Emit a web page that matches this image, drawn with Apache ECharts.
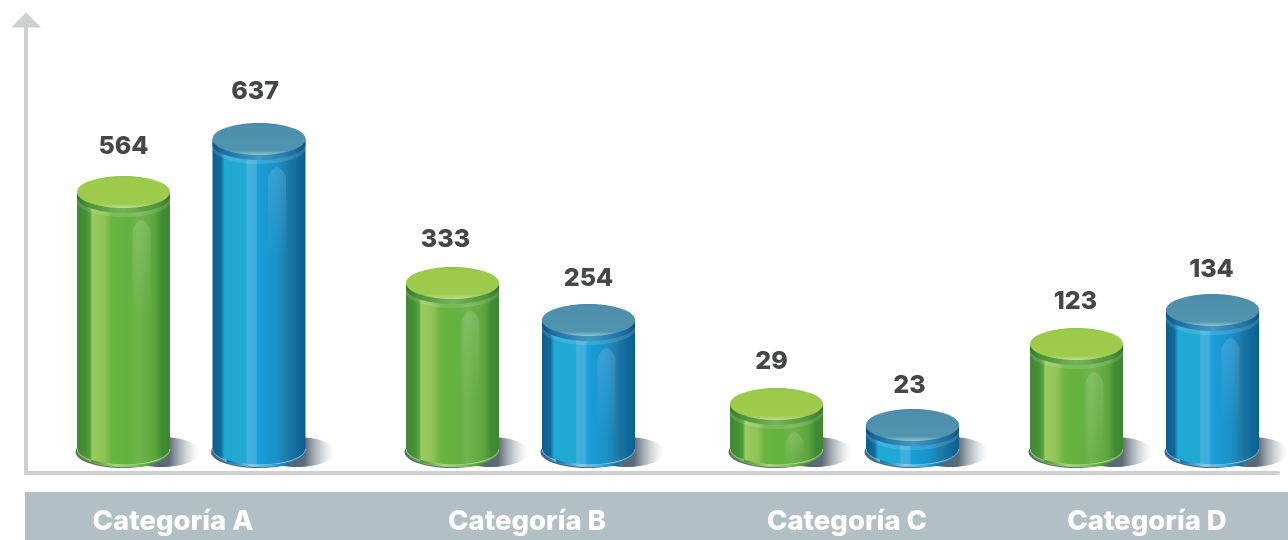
<!DOCTYPE html>
<html>
<head>
<meta charset="utf-8">
<style>html,body{margin:0;padding:0;background:#fff}#c{width:1288px;height:540px}</style>
<script src="https://cdn.jsdelivr.net/npm/echarts@6/dist/echarts.min.js"></script>
</head>
<body>
<div id="c"></div>
<script>
// Category names and printed values
var categories = ['Categoría A', 'Categoría B', 'Categoría C', 'Categoría D'];
var greenValues = [564, 333, 29, 123];
var blueValues = [637, 254, 23, 134];
// The picture's cylinders are not proportional to the printed values: drawn heights read off it
var greenHeights = [281, 190, 69, 129];
var blueHeights = [334, 153, 48, 163];
// Unevenly spaced positions along the horizontal axis
var greenPositions = [123.5, 452.5, 776.5, 1076.5];
var bluePositions = [259, 588.5, 912.5, 1212.5];
var categoryLabelPositions = [173, 527, 847, 1147];

var BASE = 21, RX = 46.5, RY = 16, FONT = 'Inter';
var LG = echarts.graphic.LinearGradient;
function h(stops) { return new LG(0, 0, 1, 0, stops.map(function (s) { return { offset: s[0], color: s[1] }; })); }
function v(stops) { return new LG(0, 0, 0, 1, stops.map(function (s) { return { offset: s[0], color: s[1] }; })); }

var palette = {
  green: {
    body: [[0,'#418a33'],[.09,'#458f35'],[.14,'#55a23c'],[.165,'#9aca62'],[.3,'#8fc354'],[.37,'#68b540'],[.56,'#63b13f'],[.66,'#72b54e'],[.84,'#5ba53c'],[.92,'#408b33'],[1,'#3e8831']],
    top: [[0,'#90c449'],[.12,'#9ccb4b'],[.86,'#9dcb4e'],[1,'#c0de90']],
    band: [[0,'#37752d'],[.12,'#4c9138'],[.5,'#76b25a'],[.88,'#4c9138'],[1,'#37752d']],
    base: '#5f6f68', foot: [[0,'#3f8c35'],[.2,'#6fb54a'],[.4,'#a8d484'],[.7,'#7fbf55'],[1,'#3f8a33']]
  },
  blue: {
    body: [[0,'#0e5f8e'],[.09,'#12699c'],[.13,'#1ea8d2'],[.36,'#22a8d4'],[.375,'#44b2de'],[.47,'#3cacdc'],[.485,'#1a9fd9'],[.7,'#1a90c8'],[.8,'#1f7ba8'],[.92,'#10699a'],[1,'#0e5f8c']],
    top: [[0,'#4a8aa8'],[.12,'#4e8fac'],[.86,'#5094ae'],[1,'#95c4c8']],
    band: [[0,'#124f80'],[.12,'#1b6ea5'],[.5,'#4497bf'],[.88,'#1b6ea5'],[1,'#124f80']],
    base: '#55666f', foot: [[0,'#11659a'],[.2,'#2a9cd0'],[.4,'#86cce6'],[.7,'#3aa8d8'],[1,'#0f6294']]
  }
};

function cylinder(kind, labelNudge) {
  return function (params, api) {
    var p = palette[kind];
    var top = api.coord([api.value(0), api.value(1)]);
    var bot = api.coord([api.value(0), BASE]);
    var cx = top[0], ty = top[1], by = bot[1];
    var L = cx - RX, R = cx + RX;
    var rtl = 'A' + RX + ' ' + RY + ' 0 0 1 ';
    var ltr = 'A' + RX + ' ' + RY + ' 0 0 0 ';
    var kids = [];
    // ground shadow
    kids.push({ type: 'ellipse', shape: { cx: cx + 38, cy: by, rx: 38, ry: RY - 1 },
      style: { fill: h([[0,'#4f5f6e'],[.6,'#5c6b78'],[.8,'rgba(130,140,150,.45)'],[1,'rgba(200,205,210,0)']]) } });
    // dark footprint
    kids.push({ type: 'ellipse', shape: { cx: cx - 1, cy: by, rx: RX + .5, ry: RY }, style: { fill: p.base } });
    // body, its bottom edge bulging towards the viewer
    kids.push({ type: 'path', shape: { pathData: 'M' + L + ' ' + ty + 'L' + R + ' ' + ty + 'L' + R + ' ' + (by - 1) + rtl + L + ' ' + (by - 1) + 'Z' },
      style: { fill: h(p.body) } });
    // soft arch highlight
    var archTop = ty + 28, archBot = Math.min(by + 4, archTop + 90);
    if (archBot - archTop > 12) {
      kids.push({ type: 'path', shape: { pathData: 'M' + (cx + 9) + ' ' + archBot + 'L' + (cx + 9) + ' ' + (archTop + 10) + 'Q' + (cx + 18) + ' ' + (archTop - 10) + ' ' + (cx + 27) + ' ' + (archTop + 10) + 'L' + (cx + 27) + ' ' + archBot + 'Z' },
        style: { fill: v([[0,'rgba(255,255,255,.13)'],[1,'rgba(255,255,255,0)']]) } });
    }
    // foot: pale seam, lighter lower band and a bright streak
    var fy = by - 3;
    kids.push({ type: 'path', shape: { pathData: 'M' + L + ' ' + fy + ltr + R + ' ' + fy + 'L' + R + ' ' + (by - 1) + rtl + L + ' ' + (by - 1) + 'Z' },
      style: { fill: 'rgba(255,255,255,.12)' } });
    kids.push({ type: 'path', shape: { pathData: 'M' + L + ' ' + fy + ltr + R + ' ' + fy }, style: { fill: 'none', stroke: 'rgba(255,255,255,.45)', lineWidth: 1 } });
    kids.push({ type: 'path', shape: { pathData: 'M' + (L + 14) + ' ' + (by + 9) + 'Q' + (cx - 5) + ' ' + (by + 17) + ' ' + (R - 16) + ' ' + (by + 12) }, style: { fill: 'none', stroke: h(p.foot), lineWidth: 2.5 } });
    // upper rim under the lid
    kids.push({ type: 'ellipse', shape: { cx: cx, cy: ty + 9, rx: RX, ry: RY }, style: { fill: 'rgba(255,255,255,.13)' } });
    kids.push({ type: 'ellipse', shape: { cx: cx, cy: ty + 5, rx: RX, ry: RY }, style: { fill: h(p.band) } });
    // lid
    kids.push({ type: 'ellipse', shape: { cx: cx, cy: ty, rx: RX, ry: RY }, style: { fill: v(p.top) } });
    // printed value
    kids.push({ type: 'text', style: { text: String(api.value(2)), x: cx + labelNudge[params.dataIndex][0], y: ty + labelNudge[params.dataIndex][1],
      fill: '#444647', font: '800 25px ' + FONT, align: 'center', verticalAlign: 'middle' }, z2: 10 });
    return { type: 'group', children: kids };
  };
}

function rows(pos, heights, vals) { return pos.map(function (x, i) { return [x, heights[i], vals[i]]; }); }

var option = {
  animation: false,
  graphic: [{ type: 'rect', z: -1, shape: { x: 25, y: 492, width: 1263, height: 48 }, style: { fill: '#b2bfc4' } }],
  grid: { left: 26, right: 10, top: 20, bottom: 67 },
  xAxis: {
    type: 'value', min: 26, max: 1278, z: 5,
    splitLine: { show: false },
    axisLine: { show: true, onZero: false, lineStyle: { color: '#cdcfd1', width: 4 } },
    axisTick: { show: false },
    axisLabel: {
      show: true, customValues: categoryLabelPositions, margin: 35, color: '#fff',
      fontFamily: FONT, fontWeight: 800, fontSize: 27.5,
      formatter: function (val) { return categories[categoryLabelPositions.indexOf(val)]; }
    }
  },
  yAxis: {
    type: 'value', min: 0, max: 453,
    splitLine: { show: false },
    axisLine: { show: true, onZero: false, symbol: ['none', 'triangle'], symbolSize: [30, 15], lineStyle: { color: '#cdcfd1', width: 4 } },
    axisTick: { show: false },
    axisLabel: { show: false }
  },
  series: [
    { type: 'custom', name: 'Verde', coordinateSystem: 'cartesian2d', clip: false, encode: { x: 0, y: 1 },
      renderItem: cylinder('green', [[0,-46],[-7,-44],[-5,-43],[-1,-43]]), data: rows(greenPositions, greenHeights, greenValues) },
    { type: 'custom', name: 'Azul', coordinateSystem: 'cartesian2d', clip: false, encode: { x: 0, y: 1 },
      renderItem: cylinder('blue', [[-4,-48],[0,-42],[-3,-40],[-1,-41]]), data: rows(bluePositions, blueHeights, blueValues) }
  ]
};
var chart = echarts.init(document.getElementById('c'), null, { renderer: 'canvas' });
chart.setOption(option);
</script>
</body>
</html>
